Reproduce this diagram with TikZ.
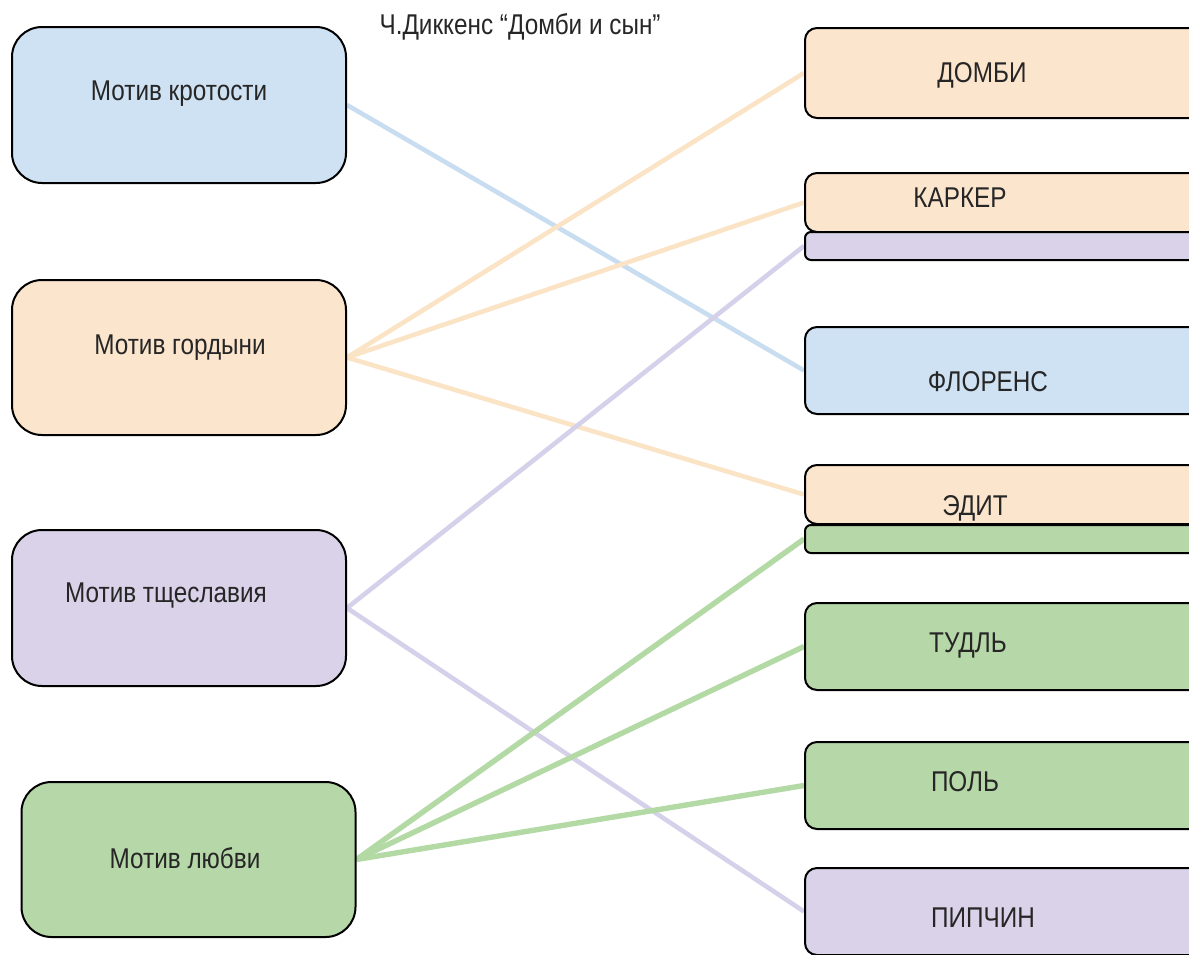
\documentclass[tikz,border=0pt]{standalone}
\usepackage{fontspec}
\setmainfont{Liberation Sans}[FakeStretch=0.85]
\usetikzlibrary{backgrounds}

\definecolor{meekfill}{HTML}{CFE2F3}
\definecolor{pridefill}{HTML}{FCE5CD}
\definecolor{vanityfill}{HTML}{D9D2E9}
\definecolor{lovefill}{HTML}{B6D7A8}
\definecolor{meekline}{HTML}{C9DDF1}
\definecolor{prideline}{HTML}{FBE3C6}
\definecolor{vanityline}{HTML}{D6D1EA}
\definecolor{loveline}{HTML}{B3D9A5}

\tikzset{
  motif/.style={draw=black, line width=1pt, rounded corners=15pt, minimum width=167pt, inner sep=0pt},
  hero/.style={draw=black, line width=1pt, rounded corners=6pt, minimum width=200pt, inner sep=0pt},
  bar/.style={draw=black, line width=1pt, rounded corners=3pt, minimum width=200pt, minimum height=14pt, inner sep=0pt},
  txt/.style={font=\fontsize{14.3}{16}\selectfont, text=black!85},
  link/.style={line width=2.3pt}
}

\begin{document}
\begin{tikzpicture}[x=0.5pt, y=-0.5pt]
    \useasboundingbox (0,0) rectangle (1189,954);
    \clip (0,0) rectangle (1189,954);

    % Title
    \node[txt] (title) at (520,27) {Ч.Диккенс “Домби и сын”};

    % Motif boxes
    \node[motif, fill=meekfill, minimum height=78pt] (meek) at (179,105) {};
    \node[motif, fill=pridefill, minimum height=77.5pt] (pride) at (179,357.5) {};
    \node[motif, fill=vanityfill, minimum height=78pt] (vanity) at (179,608) {};
    \node[motif, fill=lovefill, minimum height=77.5pt] (love) at (188.5,859.5) {};

    \node[txt] (meektext) at (179,94) {Мотив кротости};
    \node[txt] (pridetext) at (180,348) {Мотив гордыни};
    \node[txt] (vanitytext) at (166,596) {Мотив тщеславия};
    \node[txt] (lovetext) at (185,858) {Мотив любви};

    % Characters
    \node[hero, fill=pridefill, minimum height=45pt] (dombey) at (1005,73) {};
    \node[hero, fill=pridefill, minimum height=29.5pt] (carker) at (1005,202.5) {};
    \node[bar, fill=vanityfill] (carkerbar) at (1005,246) {};
    \node[hero, fill=meekfill, minimum height=43.5pt] (florence) at (1005,370.5) {};
    \node[hero, fill=pridefill, minimum height=29.5pt] (edith) at (1005,494.5) {};
    \node[bar, fill=lovefill] (edithbar) at (1005,539) {};
    \node[hero, fill=lovefill, minimum height=43.5pt] (toodle) at (1005,646.5) {};
    \node[hero, fill=lovefill, minimum height=43.5pt] (paul) at (1005,785.5) {};
    \node[hero, fill=vanityfill, minimum height=43.5pt] (pipchin) at (1005,911.5) {};

    \node[txt] (dombeytext) at (982,75) {ДОМБИ};
    \node[txt] (carkertext) at (960,198) {КАРКЕР};
    \node[txt] (florencetext) at (988,382) {ФЛОРЕНС};
    \node[txt] (edithtext) at (975,508) {ЭДИТ};
    \node[txt] (toodletext) at (968,645) {ТУДЛЬ};
    \node[txt] (paultext) at (965,782) {ПОЛЬ};
    \node[txt] (pipchintext) at (983,918) {ПИПЧИН};

    % Links
    \begin{scope}[on background layer]
        \draw[link, meekline] (meek.east) -- (florence.west);
        \draw[link, prideline] (pride.east) -- (dombey.west);
        \draw[link, prideline] (pride.east) -- (carker.west);
        \draw[link, prideline] (pride.east) -- (edith.west);
        \draw[link, vanityline] (vanity.east) -- (carkerbar.west);
        \draw[link, vanityline] (vanity.east) -- (pipchin.west);
        \draw[link, loveline, line width=2.7pt] (love.east) -- (edithbar.west);
        \draw[link, loveline, line width=2.7pt] (love.east) -- (toodle.west);
        \draw[link, loveline, line width=2.7pt] (love.east) -- (paul.west);
    \end{scope}

\end{tikzpicture}
\end{document}
